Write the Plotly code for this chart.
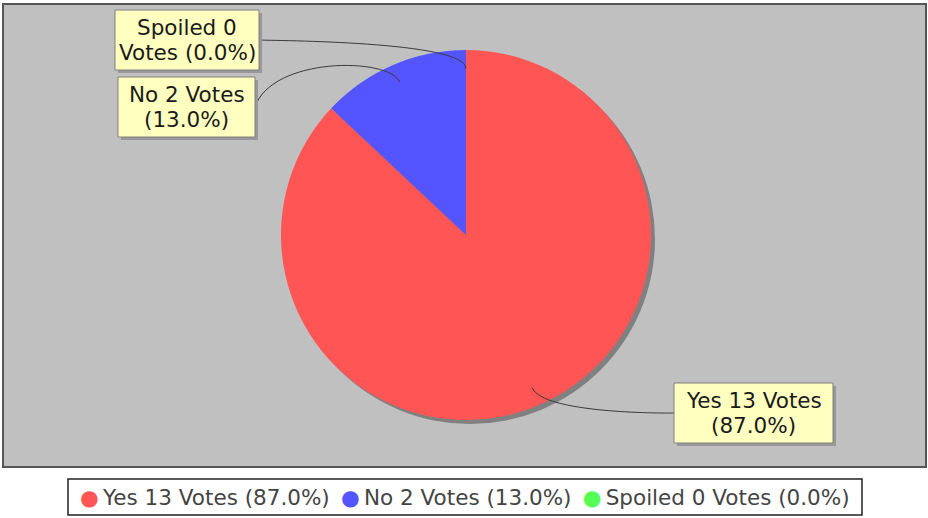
import math
import textwrap
import plotly.graph_objects as go

# ---- data ----
categories = ["Yes", "No", "Spoiled"]
votes = [13, 2, 0]
percents = [87.0, 13.0, 0.0]
colors = ["#FF5555", "#5555FF", "#55FF55"]

# ---- layout constants (pixels) ----
W, H = 928, 518
CX, CY, R = 466, 235, 185
SHADOW = 4
PLOT_BG = "#C0C0C0"
FONT = "DejaVu Sans"
FS = 21.5
LINE_H = 25

# label boxes (x0, y0, x1, y1) in pixels
label_boxes = {
    "Yes": (674, 383, 833, 443),
    "No": (118, 77, 255, 137),
    "Spoiled": (115, 10, 259, 70),
}

full_labels = [f"{c} {v} Votes ({p:.1f}%)" for c, v, p in zip(categories, votes, percents)]
box_lines = [textwrap.wrap(t, 12) for t in full_labels]

fig = go.Figure()

# invisible pixel-space axes for shapes
fig.add_trace(go.Scatter(x=[None], y=[None], showlegend=False, hoverinfo="skip"))

fig.add_trace(go.Pie(
    labels=categories,
    values=percents,
    marker=dict(colors=colors, line=dict(width=0)),
    sort=False,
    direction="clockwise",
    rotation=0,
    textinfo="none",
    hoverinfo="label+value",
    showlegend=False,
    domain=dict(x=[(CX - R) / W, (CX + R) / W], y=[1 - (CY + R) / H, 1 - (CY - R) / H]),
))

shapes = []
# plot background
shapes.append(dict(type="rect", xref="x", yref="y", x0=3, y0=4, x1=926, y1=467,
                   fillcolor=PLOT_BG, line=dict(color="#555555", width=2), layer="below"))
# pie shadow
shapes.append(dict(type="circle", xref="x", yref="y",
                   x0=CX - R + SHADOW, y0=CY - R + SHADOW, x1=CX + R + SHADOW, y1=CY + R + SHADOW,
                   fillcolor="#808080", line=dict(width=0), layer="below"))

annotations = []
total = sum(percents)
cum = 0.0
for cat, p in zip(categories, percents):
    mid = (cum + p / 2) / total * 2 * math.pi  # clockwise from 12 o'clock
    cum += p
    dx, dy = math.sin(mid), -math.cos(mid)
    link = (CX + 0.9 * R * dx, CY + 0.9 * R * dy)
    elbow = (CX + 1.05 * R * dx, CY + 1.05 * R * dy)
    bx0, by0, bx1, by1 = label_boxes[cat]
    bcy = (by0 + by1) / 2
    if (bx0 + bx1) / 2 < CX:
        anchor = (CX - 1.05 * R, elbow[1])
        target = (bx1, bcy)
    else:
        anchor = (CX + 1.05 * R, elbow[1])
        target = (bx0, bcy)
    path = (f"M {target[0]},{target[1]} C {anchor[0]},{anchor[1]} "
            f"{elbow[0]},{elbow[1]} {link[0]},{link[1]}")
    shapes.append(dict(type="path", xref="x", yref="y", path=path,
                       line=dict(color="#3a3a3a", width=1), layer="above"))

for cat, lines in zip(categories, box_lines):
    bx0, by0, bx1, by1 = label_boxes[cat]
    shapes.append(dict(type="rect", xref="x", yref="y", x0=bx0 + 3, y0=by0 + 3, x1=bx1 + 3, y1=by1 + 3,
                       fillcolor="#989898", line=dict(width=0), layer="above"))
    shapes.append(dict(type="rect", xref="x", yref="y", x0=bx0, y0=by0, x1=bx1, y1=by1,
                       fillcolor="#FFFFC0", line=dict(color="#808080", width=1), layer="above"))
    cyb = (by0 + by1) / 2
    n = len(lines)
    for i, ln in enumerate(lines):
        annotations.append(dict(x=(bx0 + bx1) / 2, y=cyb + (i - (n - 1) / 2) * LINE_H,
                                xref="x", yref="y", text=ln, showarrow=False,
                                xanchor="center", yanchor="middle",
                                font=dict(family=FONT, size=FS, color="#1a1a1a")))

# legend box
shapes.append(dict(type="rect", xref="x", yref="y", x0=68, y0=479, x1=862, y1=515,
                   fillcolor="white", line=dict(color="#222222", width=1.5), layer="above"))
legend_text = " \u2009".join(
    f"<span style='color:{c}'>●</span>\u2009{t}" for c, t in zip(colors, full_labels)
)
annotations.append(dict(x=465, y=497, xref="x", yref="y", text=legend_text, showarrow=False,
                        xanchor="center", yanchor="middle",
                        font=dict(family=FONT, size=FS, color="#444444")))

fig.update_layout(
    width=W, height=H,
    margin=dict(l=0, r=0, t=0, b=0),
    paper_bgcolor="white",
    plot_bgcolor="rgba(0,0,0,0)",
    xaxis=dict(range=[0, W], visible=False, domain=[0, 1], fixedrange=True),
    yaxis=dict(range=[H, 0], visible=False, domain=[0, 1], fixedrange=True),
    shapes=shapes,
    annotations=annotations,
    showlegend=False,
)

fig.write_html("out.html", config={"displayModeBar": False},
               post_script="document.body.style.margin='0';document.body.style.overflow='hidden';")
